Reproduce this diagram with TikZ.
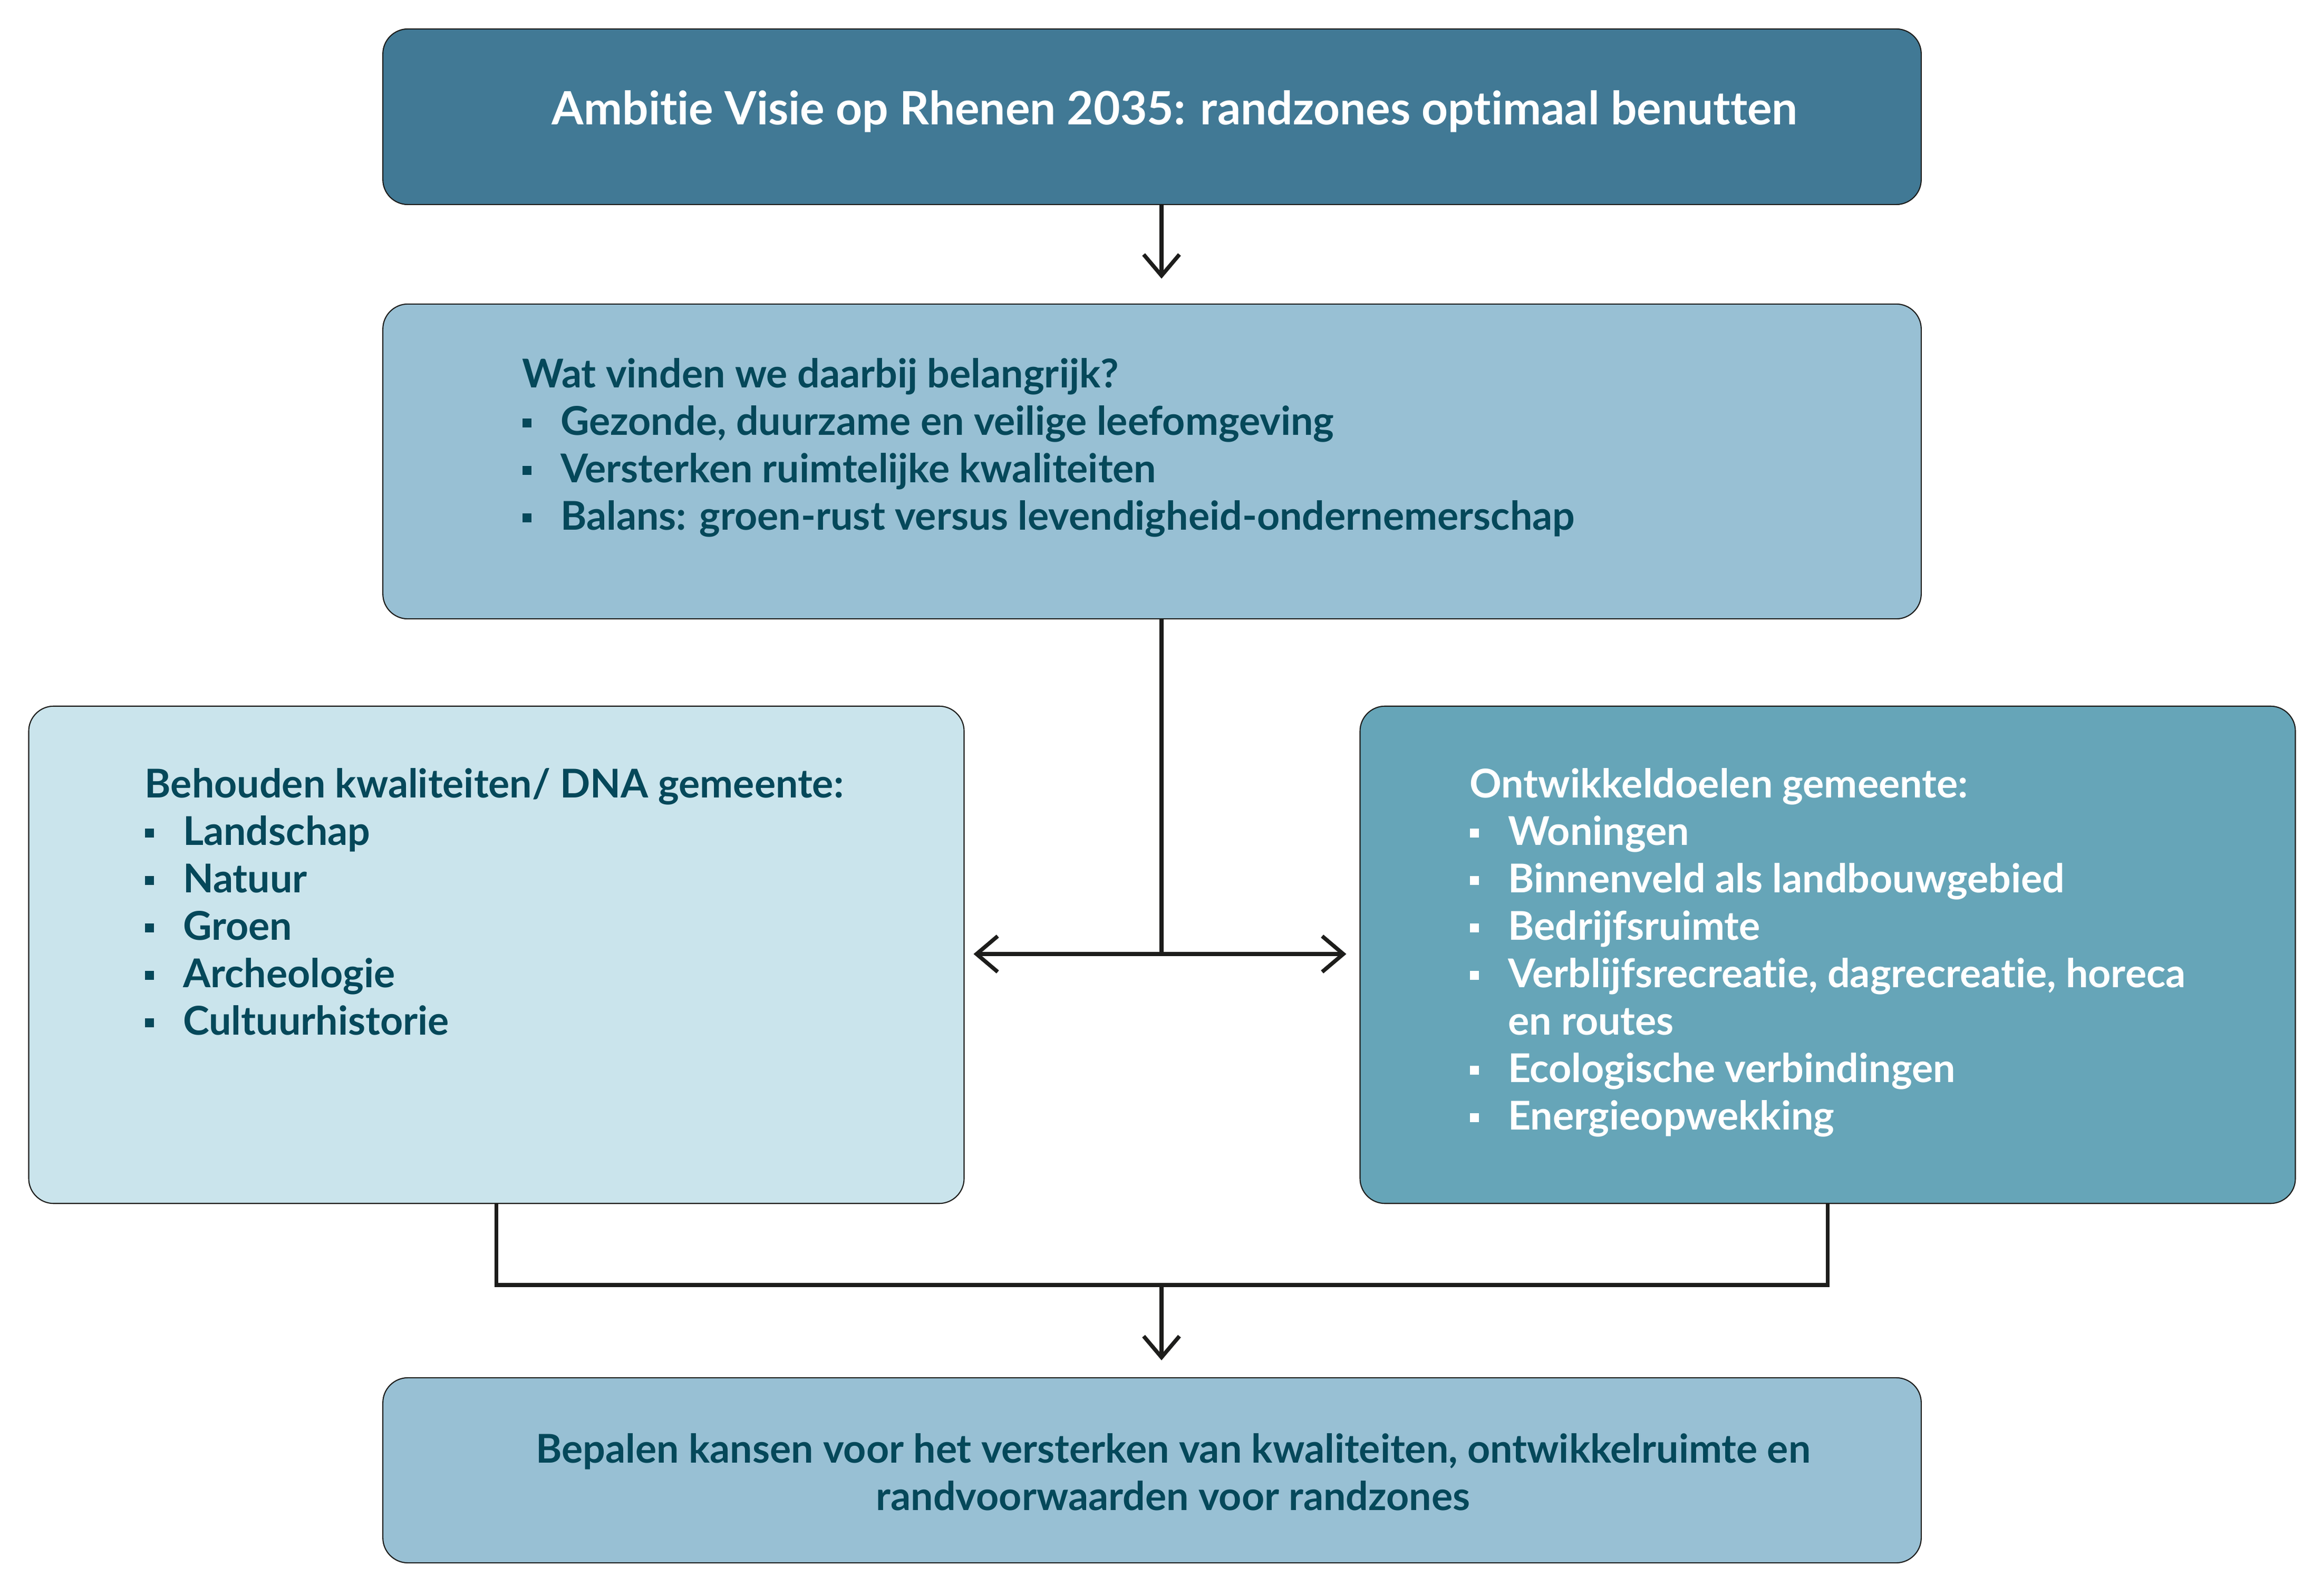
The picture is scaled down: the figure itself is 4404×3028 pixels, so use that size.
\documentclass[tikz,border=0pt]{standalone}
\usepackage{fontspec}
\setmainfont{Lato}[Ligatures=NoCommon]
\usepackage{tikz}
\usetikzlibrary{arrows.meta}
\definecolor{kleurkop}{RGB}{65,121,149}
\definecolor{kleurmidden}{RGB}{152,192,212}
\definecolor{kleurlicht}{RGB}{202,228,236}
\definecolor{kleurzee}{RGB}{102,165,184}
\definecolor{inkt}{RGB}{5,72,90}
\definecolor{lijn}{RGB}{29,29,27}
\newcommand{\blok}{\makebox[20.6pt][l]{\rule[4.3pt]{4.8pt}{4.8pt}}}

\begin{document}
\begin{tikzpicture}[x=0.01cm,y=-0.01cm,
    kader/.style={draw=lijn,line width=0.6pt,rounded corners=13.5pt,inner sep=0pt},
    tekst/.style={inner sep=0pt,font=\bfseries\fontsize{21.4}{25.6}\selectfont,text=inkt,align=left,anchor=north west},
    verbind/.style={draw=lijn,line width=2.1pt},
    pijl/.style={verbind,-{Straight Barb[length=11.4pt,width=19.3pt]}}]
    \useasboundingbox (0,0) rectangle (4404,3028);
    \node[kader,fill=kleurkop,minimum width=29.16cm,minimum height=3.33cm] (ambitie) at (2185,221.5) {};
    \node[kader,fill=kleurmidden,minimum width=29.16cm,minimum height=5.97cm] (waarden) at (2185,875.5) {};
    \node[kader,fill=kleurlicht,minimum width=17.73cm,minimum height=9.43cm] (behoud) at (941.5,1811.5) {};
    \node[kader,fill=kleurzee,minimum width=17.73cm,minimum height=9.43cm] (ontwikkel) at (3466.5,1811.5) {};
    \node[kader,fill=kleurmidden,minimum width=29.16cm,minimum height=3.51cm] (kansen) at (2185,2789.5) {};
    \node[inner sep=0pt,anchor=base,text=white,font=\bfseries\fontsize{24.8}{30}\selectfont] (titel) at (2228,237) {Ambitie Visie op Rhenen 2035: randzones optimaal benutten};
    \node[tekst] (vragen) at (990,672) {\strut Wat vinden we daarbij belangrijk?\\
        \blok Gezonde, duurzame en veilige leefomgeving\\
        \blok Versterken ruimtelijke kwaliteiten\\
        \blok Balans: groen-rust versus levendigheid-ondernemerschap};
    \node[tekst] (dna) at (274,1450) {\strut Behouden kwaliteiten/ DNA gemeente:\\
        \blok Landschap\\
        \blok Natuur\\
        \blok Groen\\
        \blok Archeologie\\
        \blok Cultuurhistorie};
    \node[tekst,text=white] (doelen) at (2787,1450) {\strut Ontwikkeldoelen gemeente:\\
        \blok Woningen\\
        \blok Binnenveld als landbouwgebied\\
        \blok Bedrijfsruimte\\
        \blok Verblijfsrecreatie, dagrecreatie, horeca\\
        \hspace*{20.6pt}en routes\\
        \blok Ecologische verbindingen\\
        \blok Energieopwekking};
    \node[tekst,align=center,anchor=north] (besluit) at (2225,2712) {\strut Bepalen kansen voor het versterken van kwaliteiten, ontwikkelruimte en\\
        randvoorwaarden voor randzones};
    \coordinate (splits) at (2203,1810);
    \coordinate (samen) at (2203,2438);
    \draw[pijl,shorten >=13.4pt] (ambitie.south -| splits) -- (waarden.north -| splits);
    \draw[verbind] (waarden.south -| splits) -- (splits);
    \draw[pijl,shorten >=4.8pt] (splits) -- (behoud.east |- splits);
    \draw[pijl,shorten >=7.1pt] (splits) -- (ontwikkel.west |- splits);
    \draw[verbind] (behoud.south) |- (samen) -| (ontwikkel.south);
    \draw[pijl,shorten >=9.1pt] (samen) -- (kansen.north -| samen);
\end{tikzpicture}
\end{document}
